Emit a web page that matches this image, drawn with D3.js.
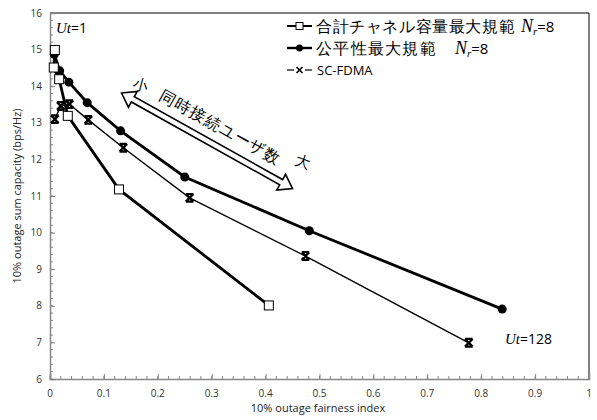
<!DOCTYPE html>
<html>
<head>
<meta charset="utf-8">
<script src="https://cdn.jsdelivr.net/npm/d3@7"></script>
<style>
  html, body { margin: 0; padding: 0; background: #fff; }
  svg { display: block; }
  text { font-family: "Open Sans", "Noto Sans", sans-serif; }
</style>
</head>
<body>
<div id="chart"></div>
<script>
// Fairness index (x) and sum capacity (y) for Ut = 1 ... 128
const sumCapX = [0.009, 0.007, 0.017, 0.033, 0.128, 0.406];
const sumCapY = [14.99, 14.51, 14.19, 13.19, 11.18, 8.01];

const fairX = [0.008, 0.018, 0.035, 0.069, 0.131, 0.250, 0.481, 0.839];
const fairY = [14.87, 14.42, 14.11, 13.55, 12.78, 11.52, 10.05, 7.91];

const scfdmaX = [0.009, 0.020, 0.036, 0.071, 0.136, 0.259, 0.474, 0.777];
const scfdmaY = [13.10, 13.46, 13.51, 13.08, 12.32, 10.95, 9.36, 6.99];

const seriesNames = ["合計チャネル容量最大規範", "公平性最大規範", "SC-FDMA"];
const xTicks = [0, 0.1, 0.2, 0.3, 0.4, 0.5, 0.6, 0.7, 0.8, 0.9, 1];
const yTicks = [6, 7, 8, 9, 10, 11, 12, 13, 14, 15, 16];

const W = 597, H = 420;
const m = { left: 50, right: 8, top: 13, bottom: 41 };

const svg = d3.select("#chart").append("svg")
  .attr("width", W).attr("height", H);

const x = d3.scaleLinear().domain([0, 1]).range([m.left, W - m.right]);
const y = d3.scaleLinear().domain([6, 16]).range([H - m.bottom, m.top]);

// frame: top and right in black
svg.append("path")
  .attr("d", `M${x(0)},${y(16)}H${x(1)}V${y(6)}`)
  .attr("fill", "none").attr("stroke", "#000").attr("stroke-width", 1);

// minor ticks
const grey = "#868686";
const minorX = d3.range(0, 1.0001, 0.02);
const minorY = d3.range(6, 16.0001, 0.2);
svg.append("g").selectAll("line").data(minorX).join("line")
  .attr("x1", d => x(d)).attr("x2", d => x(d))
  .attr("y1", y(6)).attr("y2", y(6) - 3)
  .attr("stroke", grey).attr("stroke-width", 1);
svg.append("g").selectAll("line").data(minorY).join("line")
  .attr("y1", d => y(d)).attr("y2", d => y(d))
  .attr("x1", x(0)).attr("x2", x(0) + 3)
  .attr("stroke", grey).attr("stroke-width", 1);

// axes
const xAxis = svg.append("g").attr("transform", `translate(0,${y(6)})`)
  .call(d3.axisTop(x).tickValues(xTicks).tickSize(5).tickFormat(d3.format("")));
xAxis.selectAll("text").remove();
const yAxis = svg.append("g").attr("transform", `translate(${x(0)},0)`)
  .call(d3.axisRight(y).tickValues(yTicks).tickSize(5).tickFormat(d3.format("")));
yAxis.selectAll("text").remove();
[xAxis, yAxis].forEach(g => {
  g.select(".domain").attr("stroke", grey).attr("stroke-width", 1.5);
  g.selectAll(".tick line").attr("stroke", grey);
});

// tick labels
svg.append("g").selectAll("text").data(xTicks).join("text")
  .attr("x", d => x(d)).attr("y", y(6) + 18)
  .attr("text-anchor", "middle").attr("font-size", 10).attr("fill", "#333")
  .text(d => d3.format("")(d));
svg.append("g").selectAll("text").data(yTicks).join("text")
  .attr("x", x(0) - 8).attr("y", d => y(d) + 3.5)
  .attr("text-anchor", "end").attr("font-size", 10).attr("fill", "#333")
  .text(d => d);

// axis titles
svg.append("text").attr("x", 318).attr("y", 412)
  .attr("text-anchor", "middle").attr("font-size", 11).attr("fill", "#222")
  .text("10% outage fairness index");
svg.append("text")
  .attr("transform", `translate(21,${(y(6) + y(16)) / 2}) rotate(-90)`)
  .attr("text-anchor", "middle").attr("font-size", 11).attr("fill", "#222")
  .text("10% outage sum capacity (bps/Hz)");

// series
const line = d3.line().x(d => x(d[0])).y(d => y(d[1]));
const sumCap = d3.zip(sumCapX, sumCapY);
const fair = d3.zip(fairX, fairY);
const scfdma = d3.zip(scfdmaX, scfdmaY);

svg.append("path").datum(sumCap).attr("d", line)
  .attr("fill", "none").attr("stroke", "#000").attr("stroke-width", 2.8);
svg.append("path").datum(fair).attr("d", line)
  .attr("fill", "none").attr("stroke", "#000").attr("stroke-width", 2.8);
svg.append("path").datum(scfdma).attr("d", line)
  .attr("fill", "none").attr("stroke", "#000").attr("stroke-width", 1.4);

// star marker: X with flat caps
const starPath = s => `M${-s},${-s}L${s},${s}M${s},${-s}L${-s},${s}M${-s},${-s}H${s}M${-s},${s}H${s}`;

svg.append("g").selectAll("circle").data(fair).join("circle")
  .attr("cx", d => x(d[0])).attr("cy", d => y(d[1])).attr("r", 4.5).attr("fill", "#000");
svg.append("g").selectAll("path").data(scfdma).join("path")
  .attr("transform", d => `translate(${x(d[0])},${y(d[1])})`)
  .attr("d", starPath(3.8)).attr("fill", "none").attr("stroke", "#000").attr("stroke-width", 2.3);
svg.append("g").selectAll("rect").data(sumCap).join("rect")
  .attr("x", d => x(d[0]) - 4.5).attr("y", d => y(d[1]) - 4.5)
  .attr("width", 9).attr("height", 9)
  .attr("fill", "#fff").attr("stroke", "#000").attr("stroke-width", 1);

// legend
const lg = svg.append("g");
const rows = [26, 48, 70];
const lx0 = 287, lx1 = 312;
// row 1: open square
lg.append("line").attr("x1", lx0).attr("x2", lx1).attr("y1", rows[0]).attr("y2", rows[0])
  .attr("stroke", "#000").attr("stroke-width", 2);
lg.append("rect").attr("x", 296).attr("y", rows[0] - 3.5).attr("width", 7).attr("height", 7)
  .attr("fill", "#fff").attr("stroke", "#000").attr("stroke-width", 1);
// row 2: filled circle
lg.append("line").attr("x1", lx0).attr("x2", lx1).attr("y1", rows[1]).attr("y2", rows[1])
  .attr("stroke", "#000").attr("stroke-width", 2.4);
lg.append("circle").attr("cx", 299.5).attr("cy", rows[1]).attr("r", 3.5).attr("fill", "#000");
// row 3: star
lg.append("line").attr("x1", lx0).attr("x2", lx1).attr("y1", rows[2]).attr("y2", rows[2])
  .attr("stroke", "#000").attr("stroke-width", 1.2);
lg.append("rect").attr("x", 294).attr("y", rows[2] - 4).attr("width", 11).attr("height", 8).attr("fill", "#fff");
lg.append("path").attr("transform", `translate(299.5,${rows[2]})`)
  .attr("d", `M-3,-3L3,3M3,-3L-3,3`).attr("stroke", "#000").attr("stroke-width", 1.6);

const jp = '"Noto Sans CJK JP", sans-serif';
function nrLabel(x0, yy) {
  const tx = lg.append("text").attr("x", x0).attr("y", yy + 6).attr("font-size", 16);
  tx.append("tspan").attr("font-family", '"Liberation Serif", serif').attr("font-style", "italic").attr("font-size", 18).text("N");
  tx.append("tspan").attr("font-family", '"Liberation Serif", serif').attr("font-style", "italic").attr("font-size", 11).attr("dy", 3).text("r");
  tx.append("tspan").attr("dy", -3).attr("font-size", 15).text("=8");
}
lg.append("text").attr("x", 316).attr("y", rows[0] + 6).attr("font-family", jp)
  .attr("font-size", 15.5).attr("letter-spacing", 0.6).text(seriesNames[0]);
nrLabel(521, rows[0]);
lg.append("text").attr("x", 316).attr("y", rows[1] + 6).attr("font-family", jp)
  .attr("font-size", 15.5).attr("letter-spacing", 1.3).text(seriesNames[1]);
nrLabel(455, rows[1]);
lg.append("text").attr("x", 317).attr("y", rows[2] + 5).attr("font-size", 13).text(seriesNames[2]);

// Ut labels
function utLabel(x0, y0, n) {
  const t = svg.append("text").attr("x", x0).attr("y", y0).attr("font-size", 15);
  t.append("tspan").attr("font-family", '"Liberation Serif", serif').attr("font-style", "italic").text("Ut");
  t.append("tspan").attr("font-size", 14).text("=" + n);
}
utLabel(56, 33, 1);
utLabel(505, 344, 128);

// double-headed hollow arrow for number of simultaneous users
const a0 = [121.5, 93], a1 = [292.5, 188.5];
const dx = a1[0] - a0[0], dy = a1[1] - a0[1];
const L = Math.hypot(dx, dy), ang = Math.atan2(dy, dx) * 180 / Math.PI;
const hl = 13, hw = 9, sw = 3;
const arrowPts = [
  [0, 0], [hl, -hw], [hl, -sw], [L - hl, -sw], [L - hl, -hw], [L, 0],
  [L - hl, hw], [L - hl, sw], [hl, sw], [hl, hw]
];
const ag = svg.append("g").attr("transform", `translate(${a0[0]},${a0[1]}) rotate(${ang})`);
ag.append("path").attr("d", d3.line()(arrowPts) + "Z")
  .attr("fill", "#fff").attr("stroke", "#000").attr("stroke-width", 1.6).attr("stroke-linejoin", "miter");
// label along the arrow
ag.append("text").attr("x", 35).attr("y", -13).attr("font-family", jp)
  .attr("font-size", 16).attr("letter-spacing", 1).text("同時接続ユーザ数");
svg.append("text").attr("x", 133).attr("y", 90).attr("font-family", jp)
  .attr("font-size", 15).attr("transform", "rotate(15,140,84)").text("小");
svg.append("text").attr("x", 296).attr("y", 167).attr("font-family", jp)
  .attr("font-size", 15).attr("transform", "rotate(20,303,160)").text("大");
</script>
</body>
</html>
